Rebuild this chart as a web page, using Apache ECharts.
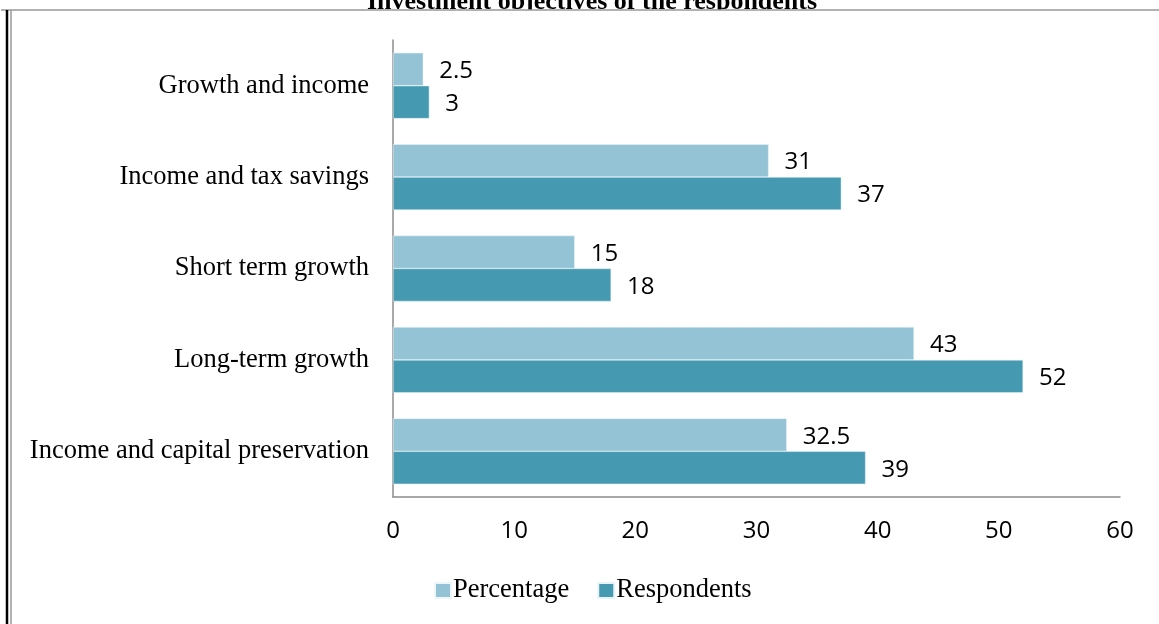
<!DOCTYPE html>
<html>
<head>
<meta charset="utf-8">
<script src="https://cdn.jsdelivr.net/npm/echarts@6/dist/echarts.min.js"></script>
<style>
html,body{margin:0;padding:0;background:#fff;}
#c{width:1159px;height:624px;}
</style>
</head>
<body>
<div id="c"></div>
<script>
// Categories listed bottom to top (ECharts category y-axis grows upward)
const categories = [
  "Income and capital preservation",
  "Long-term growth",
  "Short term growth",
  "Income and tax savings",
  "Growth and income"
];
const percentage = [32.5, 43, 15, 31, 2.5];
const respondents = [39, 52, 18, 37, 3];
const xTicks = [0, 10, 20, 30, 40, 50, 60];
const titleText = "Investment objectives of the respondents";

const chart = echarts.init(document.getElementById('c'));
const serif = '"Liberation Serif", "Times New Roman", serif';
const sans = '"Open Sans", sans-serif';

chart.setOption({
  animation: false,
  title: {
    text: titleText,
    left: 587,
    textAlign: 'center',
    top: -16,
    textStyle: { fontFamily: serif, fontWeight: 'bold', fontSize: 26, color: '#000' }
  },
  graphic: [
    { type: 'rect', z: 99, shape: { x: 0, y: 10, width: 1159, height: 4 }, style: { fill: '#fff' } },
    { type: 'line', z: 100, shape: { x1: 1, y1: 10, x2: 1159, y2: 10 }, style: { stroke: '#999', lineWidth: 1.5 } },
    { type: 'line', z: 100, shape: { x1: 7, y1: 10, x2: 7, y2: 624 }, style: { stroke: '#000', lineWidth: 2.5 } },
    { type: 'line', z: 100, shape: { x1: 11, y1: 10, x2: 11, y2: 624 }, style: { stroke: '#999', lineWidth: 1.5 } }
  ],
  legend: {
    data: ['Percentage', 'Respondents'],
    left: 429,
    top: 572,
    icon: 'rect',
    itemWidth: 16,
    itemHeight: 15,
    itemGap: 28,
    textStyle: { fontFamily: serif, fontSize: 26.5, color: '#000', padding: [0, 0, 0, -3] }
  },
  grid: { left: 393, right: 39, top: 40, bottom: 127, containLabel: false },
  xAxis: {
    type: 'value',
    min: xTicks[0],
    max: xTicks[xTicks.length - 1],
    interval: 10,
    axisLine: { show: true, lineStyle: { color: '#8c8c8c', width: 1.5 } },
    axisTick: { show: false },
    splitLine: { show: false },
    axisLabel: { fontFamily: sans, fontSize: 24, color: '#000', margin: 22 }
  },
  yAxis: {
    type: 'category',
    data: categories,
    axisLine: { show: true, lineStyle: { color: '#8c8c8c', width: 1.5 } },
    axisTick: { show: false },
    axisLabel: { fontFamily: serif, fontSize: 26.5, color: '#000', margin: 24 }
  },
  series: [
    {
      name: 'Percentage',
      type: 'bar',
      data: percentage,
      barGap: '0%',
      barCategoryGap: '28%',
      itemStyle: { color: '#93C3D5', borderColor: '#eef6f9', borderWidth: 0.5 },
      label: { show: true, position: 'right', distance: 16, offset: [0, 2], fontFamily: sans, fontSize: 24, color: '#000' }
    },
    {
      name: 'Respondents',
      type: 'bar',
      data: respondents,
      barGap: '0%',
      barCategoryGap: '28%',
      itemStyle: { color: '#4599B1', borderColor: '#e8f3f7', borderWidth: 0.5 },
      label: { show: true, position: 'right', distance: 16, offset: [0, 2], fontFamily: sans, fontSize: 24, color: '#000' }
    }
  ]
});
</script>
</body>
</html>
